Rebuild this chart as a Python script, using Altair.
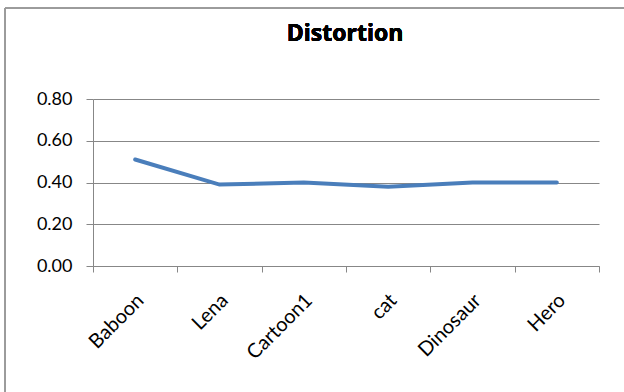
import altair as alt
import pandas as pd

categories = ["Baboon", "Lena", "Cartoon1", "cat", "Dinosaur", "Hero"]
values = [0.51, 0.39, 0.40, 0.38, 0.40, 0.40]
title_text = "Distortion"

df = pd.DataFrame({"image": categories, "distortion": values})

FONT = "Lato"
GRAY = "#878787"

line = alt.Chart(df).mark_line(color="#4a7ebb", strokeWidth=4, strokeCap="round").encode(
    x=alt.X("image:N", sort=categories,
            scale=alt.Scale(type="band", paddingInner=0, paddingOuter=0),
            axis=alt.Axis(title=None, labelAngle=-45, tickBand="extent", grid=False,
                          labelFontSize=20, labelFont=FONT, labelColor="#000000",
                          domainColor=GRAY, tickColor=GRAY, tickSize=6,
                          labelPadding=25, labelOffset=5,
                          labelAlign="right", labelBaseline="middle")),
    y=alt.Y("distortion:Q",
            scale=alt.Scale(domain=[0, 0.8], nice=False),
            axis=alt.Axis(title=None, values=[0, 0.2, 0.4, 0.6, 0.8], format=".2f",
                          labelFontSize=18, labelFont=FONT, labelColor="#000000",
                          domainColor=GRAY, tickColor=GRAY, tickSize=7, gridColor=GRAY,
                          labelPadding=14)),
)

frame_left = alt.Chart(df).mark_rule(color="#9a9a9a", strokeWidth=1).encode(
    x=alt.value(-88), y=alt.value(-91), y2=alt.value(310))
frame_top = alt.Chart(df).mark_rule(color="#9a9a9a", strokeWidth=1).encode(
    x=alt.value(-88), x2=alt.value(540), y=alt.value(-91))

title = alt.Chart(df).mark_text(font="Open Sans", fontSize=23, fontWeight="bold",
                                color="#000000", align="center", baseline="middle").encode(
    x=alt.value(252), y=alt.value(-65), text=alt.value(title_text))

chart = alt.layer(line, frame_left, frame_top, title).properties(
    width=506, height=167,
    autosize=alt.AutoSizeParams(type="none"),
    padding={"left": 93, "top": 99, "right": 25, "bottom": 126},
    background="#ffffff",
).configure_view(stroke=None)

chart.save("out.html", embed_options={"renderer": "svg", "actions": False})
